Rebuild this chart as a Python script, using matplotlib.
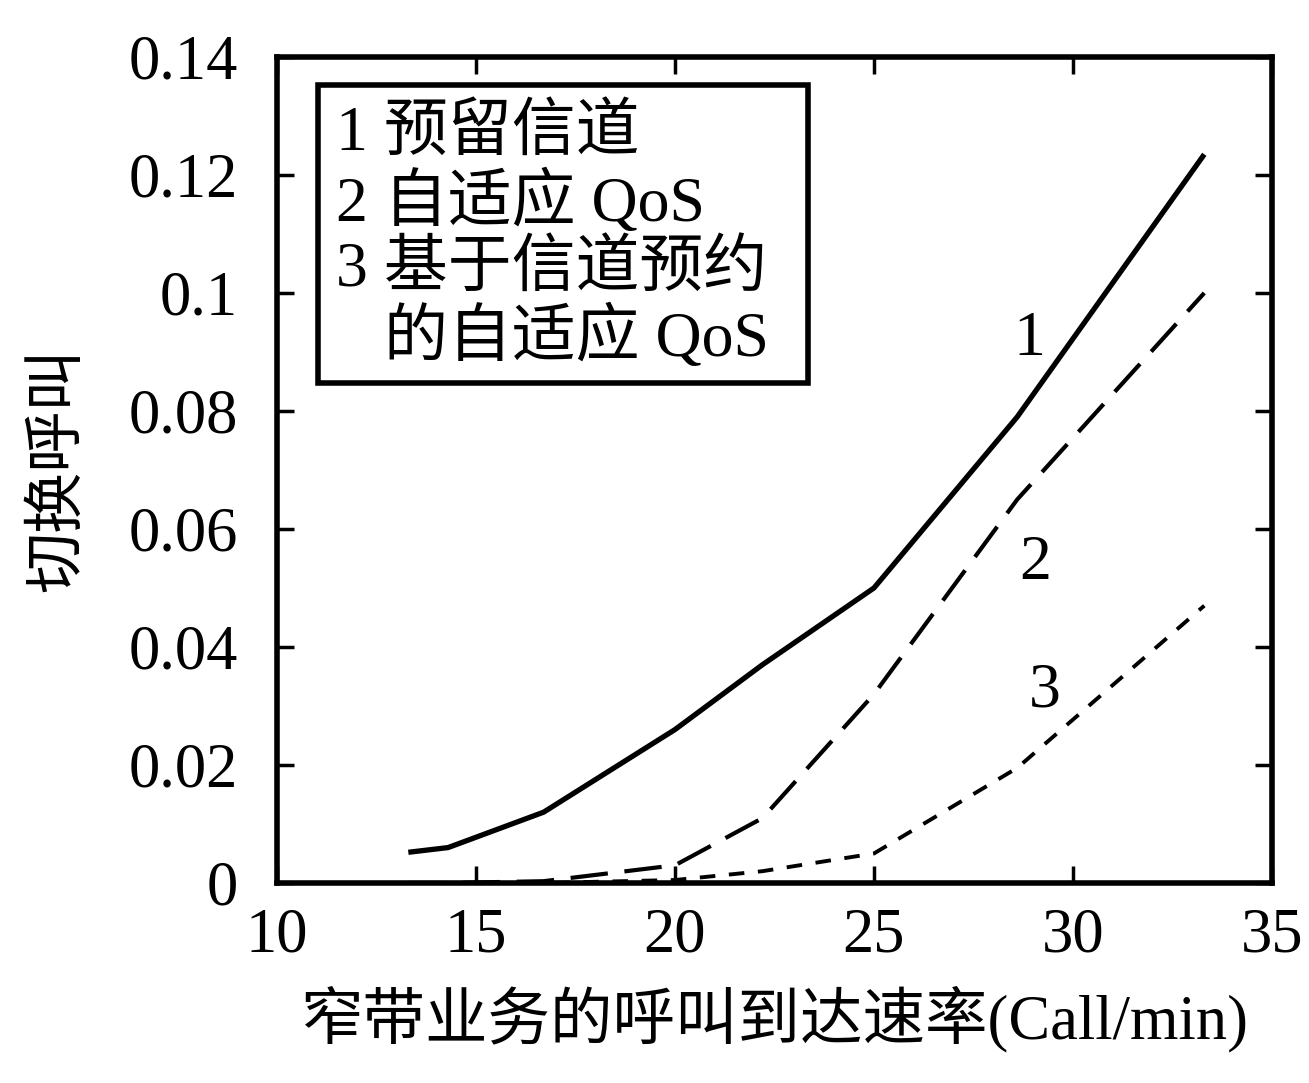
import matplotlib
matplotlib.use("Agg")
import matplotlib.pyplot as plt
from matplotlib.patches import Rectangle

# arrival rate of narrowband calls (Call/min)
rate = [13.3, 14.3, 16.7, 20.0, 22.2, 25.0, 28.6, 33.3]
# handoff call dropping for the three schemes
reserved = [0.0052, 0.0060, 0.0120, 0.0260, 0.0370, 0.0500, 0.0790, 0.1235]
adaptive = [0.0, 0.0, 0.0003, 0.0030, 0.0110, 0.0320, 0.0650, 0.1000]
reserve_adaptive = [0.0, 0.0, 0.0, 0.0005, 0.0020, 0.0050, 0.0195, 0.0470]

curve_ids = ["1", "2", "3"]
label_pos = [(28.9, 0.092), (29.05, 0.054), (29.3, 0.0325)]
legend_lines = ["1 预留信道", "2 自适应 QoS", "3 基于信道预约", "   的自适应 QoS"]

xticks = [10, 15, 20, 25, 30, 35]
yticks = [0, 0.02, 0.04, 0.06, 0.08, 0.1, 0.12, 0.14]
ytick_labels = ["0", "0.02", "0.04", "0.06", "0.08", "0.1", "0.12", "0.14"]

fonts = ["Liberation Serif", "Noto Sans CJK SC", "DejaVu Sans"]
plt.rcParams["font.family"] = fonts

fig = plt.figure(figsize=(13.09, 10.83), dpi=100)
ax = fig.add_axes([0.2116, 0.1847, 0.7601, 0.7627])

ax.plot(rate, reserved, color="black", lw=3.8, solid_capstyle="butt")
ax.plot(rate, adaptive, color="black", lw=3.0, dashes=(9, 4))
ax.plot(rate, reserve_adaptive, color="black", lw=2.8, dashes=(4, 3.5))

for cid, (lx, ly) in zip(curve_ids, label_pos):
    ax.text(lx, ly, cid, fontsize=46, ha="center", va="center")

ax.set_xlim(10, 35)
ax.set_ylim(0, 0.14)
ax.set_xticks(xticks)
ax.set_yticks(yticks)
ax.set_yticklabels(ytick_labels)
ax.tick_params(direction="in", length=12, width=2.5, labelsize=45,
               top=True, right=True)
ax.tick_params(axis="y", pad=28)
ax.tick_params(axis="x", pad=18)
for sp in ax.spines.values():
    sp.set_linewidth(4)

ax.set_xlabel("窄带业务的呼叫到达速率(Call/min)", fontsize=45, labelpad=14)
ax.set_ylabel("切换呼叫", fontsize=44, labelpad=30)

# legend drawn as a boxed text block
ax.add_patch(Rectangle((0.041, 0.605), 0.493, 0.361, transform=ax.transAxes,
                       facecolor="white", edgecolor="black", lw=4, zorder=3))
ax.text(0.059, 0.942, "\n".join(legend_lines), transform=ax.transAxes,
        fontsize=46, va="top", ha="left", linespacing=1.13, zorder=4)

fig.savefig("out.png", dpi=100)
